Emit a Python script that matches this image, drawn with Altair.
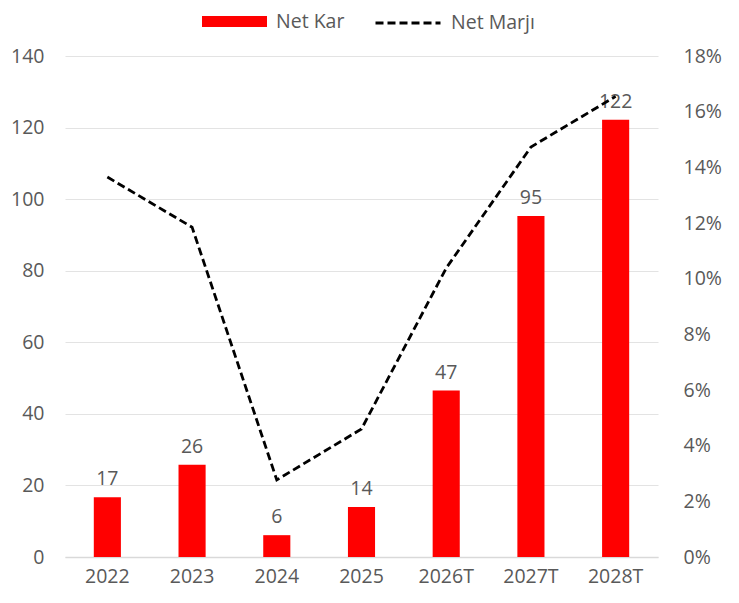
import altair as alt
import pandas as pd

years = ["2022", "2023", "2024", "2025", "2026T", "2027T", "2028T"]
net_kar = [16.7, 25.8, 6.1, 14.0, 46.5, 95.3, 122.2]
net_kar_labels = ["17", "26", "6", "14", "47", "95", "122"]
net_marji = [0.1365, 0.1185, 0.0277, 0.046, 0.1038, 0.1473, 0.1655]

df = pd.DataFrame({
    "Yıl": years,
    "Net Kar": net_kar,
    "Etiket": net_kar_labels,
    "Net Marjı": net_marji,
    "s1": ["Net Kar"] * len(years),
    "s2": ["Net Marjı"] * len(years),
})

FONT = "Open Sans"
GREY = "#595959"
FS = 19.5

x = alt.X("Yıl:N", sort=years, title=None,
          scale=alt.Scale(paddingInner=0.68, paddingOuter=0.34),
          axis=alt.Axis(labelAngle=0, labelPadding=10, ticks=False,
                        domainColor="#d9d9d9", domainWidth=1.5))

yleft = alt.Y("Net Kar:Q", title=None,
              scale=alt.Scale(domain=[0, 140]),
              axis=alt.Axis(values=list(range(0, 141, 20)), grid=True,
                            gridColor="#e3e3e3", domain=False, ticks=False,
                            labelPadding=21))

bars = alt.Chart(df).mark_bar(color="#ff0000").encode(
    x=x,
    y=yleft,
    fill=alt.Fill("s1:N", title=None,
                  scale=alt.Scale(domain=["Net Kar"], range=["#ff0000"]),
                  legend=alt.Legend(orient="none", legendX=137, legendY=-67,
                                    symbolType="M-1,-0.17L1,-0.17L1,0.17L-1,0.17Z",
                                    symbolSize=4225, symbolStrokeWidth=0,
                                    labelFontSize=FS, labelFont=FONT,
                                    labelColor=GREY, labelOffset=9)),
)

labels = alt.Chart(df).mark_text(baseline="bottom", dy=-8, fontSize=FS,
                                 font=FONT, color=GREY).encode(
    x=x,
    y=yleft,
    text="Etiket:N",
)

line = alt.Chart(df).mark_line(color="black", strokeWidth=2.8,
                               strokeDash=[8, 4]).encode(
    x=x,
    y=alt.Y("Net Marjı:Q", title=None,
            scale=alt.Scale(domain=[0, 0.18]),
            axis=alt.Axis(orient="right", format=".0%",
                          values=[i / 100 for i in range(0, 19, 2)],
                          grid=False, domain=False, ticks=False,
                          labelPadding=25)),
    strokeDash=alt.StrokeDash("s2:N", title=None,
                              scale=alt.Scale(domain=["Net Marjı"], range=[[8, 4]]),
                              legend=alt.Legend(orient="none", legendX=309, legendY=-67,
                                                symbolType="stroke", symbolSize=4225,
                                                symbolStrokeColor="black",
                                                symbolStrokeWidth=2.8,
                                                labelFontSize=FS, labelFont=FONT,
                                                labelColor=GREY, labelOffset=9)),
)

left = alt.layer(bars, labels)
chart = alt.layer(left, line).resolve_scale(
    y="independent", fill="independent", strokeDash="independent"
).resolve_legend(fill="independent", strokeDash="independent").properties(
    width=593, height=501,
    autosize=alt.AutoSizeParams(type="none"),
    padding={"left": 57, "top": 48, "right": 73, "bottom": 38},
).configure_view(stroke=None).configure_axis(
    labelFont=FONT, labelFontSize=FS, labelColor=GREY
).configure_legend(labelFont=FONT)

chart.save("out.html", embed_options={"renderer": "svg", "actions": False})
